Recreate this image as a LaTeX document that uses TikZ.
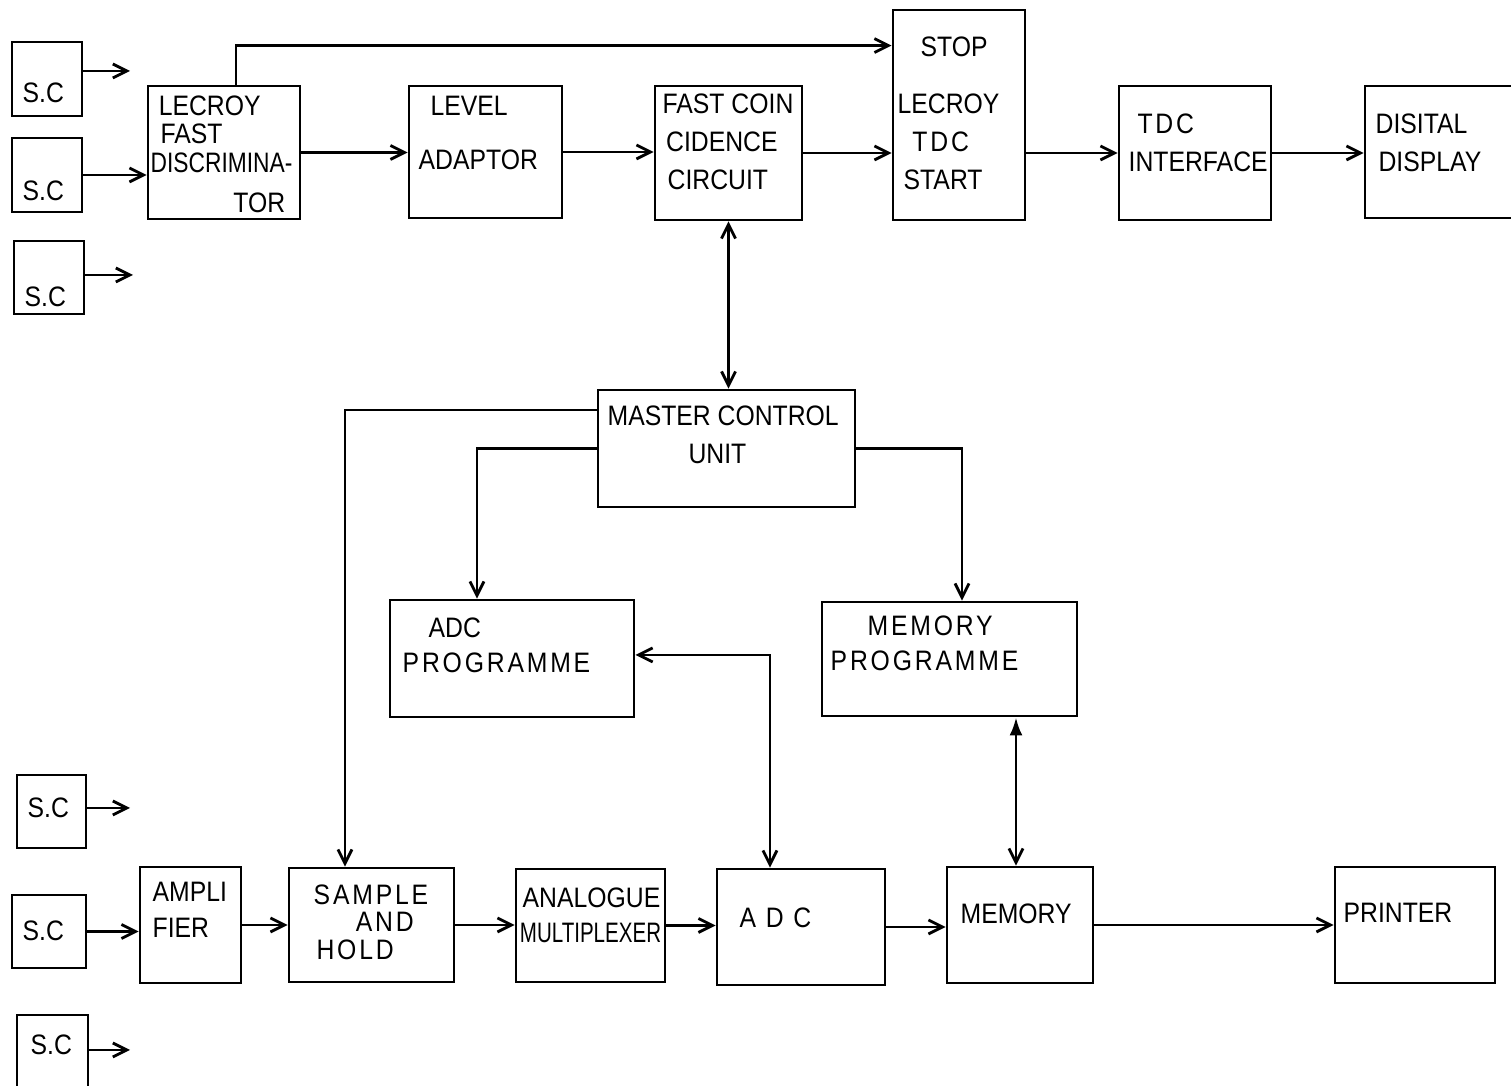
\documentclass[tikz,border=0pt]{standalone}
\usepackage{fontspec}
\setmainfont{Liberation Sans}[FakeStretch=0.88]
\usepackage{graphicx}
\usetikzlibrary{arrows.meta}
\newcommand{\spaced}[1]{{\addfontfeature{LetterSpace=10}#1}}

\begin{document}
\begin{tikzpicture}[
  x=0.01cm, y=-0.01cm,
  blk/.style={rectangle, draw, line width=0.8pt, inner sep=0pt},
  lbl/.style={anchor=north west, inner sep=0pt, align=left,
              font=\fontsize{8}{10.8}\selectfont},
  arr/.style={line width=0.8pt, -{Straight Barb[length=1.4mm,width=1.4mm]}},
  dbl/.style={line width=0.8pt, {Straight Barb[length=1.4mm,width=1.4mm]}-{Straight Barb[length=1.4mm,width=1.4mm]}}
]
  \useasboundingbox (0,0) rectangle (1511,1086);
  % top row
  \node[blk, minimum width=0.70cm, minimum height=0.74cm] (sc1)    at (47,79)     {};
  \node[blk, minimum width=0.70cm, minimum height=0.74cm] (sc2)    at (47,175)    {};
  \node[blk, minimum width=0.70cm, minimum height=0.73cm] (sc3)    at (49,277.5)  {};
  \node[blk, minimum width=1.52cm, minimum height=1.33cm] (disc)   at (224,152.5) {};
  \node[blk, minimum width=1.53cm, minimum height=1.32cm] (level)  at (485.5,152) {};
  \node[blk, minimum width=1.47cm, minimum height=1.34cm] (coin)   at (728.5,153) {};
  \node[blk, minimum width=1.32cm, minimum height=2.10cm] (tdc)    at (959,115)   {};
  \node[blk, minimum width=1.52cm, minimum height=1.34cm] (tdcif)  at (1195,153)  {};
  \node[blk, minimum width=1.52cm, minimum height=1.32cm] (disp)   at (1441,152)  {};
  % control
  \node[blk, minimum width=2.57cm, minimum height=1.17cm] (master)  at (726.5,448.5) {};
  \node[blk, minimum width=2.44cm, minimum height=1.17cm] (adcprog) at (512,658.5)   {};
  \node[blk, minimum width=2.55cm, minimum height=1.14cm] (memprog) at (949.5,659)   {};
  % bottom row
  \node[blk, minimum width=0.69cm, minimum height=0.73cm] (sc4)     at (51.5,811.5) {};
  \node[blk, minimum width=0.74cm, minimum height=0.73cm] (sc5)     at (49,931.5)   {};
  \node[blk, minimum width=0.71cm, minimum height=0.74cm] (sc6)     at (52.5,1052)  {};
  \node[blk, minimum width=1.01cm, minimum height=1.16cm] (amp)     at (190.5,925)  {};
  \node[blk, minimum width=1.65cm, minimum height=1.14cm] (sah)     at (371.5,925)  {};
  \node[blk, minimum width=1.49cm, minimum height=1.13cm] (mux)     at (590.5,925.5) {};
  \node[blk, minimum width=1.68cm, minimum height=1.16cm] (adc)     at (801,927)    {};
  \node[blk, minimum width=1.46cm, minimum height=1.16cm] (memory)  at (1020,925)   {};
  \node[blk, minimum width=1.60cm, minimum height=1.16cm] (printer) at (1415,925)   {};

  % texts
  \node[lbl] (sc1T) at (22,82)  {S.C};
  \node[lbl] (sc2T) at (22,180) {S.C};
  \node[lbl] (sc3T) at (24,286) {S.C};
  \node[lbl, font=\fontsize{8}{8.1}\selectfont] (discT) at (150,95)
        {\hspace*{2.3pt}LECROY\\\hspace*{2.8pt}FAST\\\scalebox{0.92}[1]{DISCRIMINA-}};
  \node[lbl, anchor=north east] (torT) at (286,192) {TOR};
  \node[lbl, font=\fontsize{8}{15.6}\selectfont] (levelT) at (418,95)
        {\hspace*{3.4pt}LEVEL\\ADAPTOR};
  \node[lbl] (coinT) at (662,93) {FAST COIN\\\hspace*{1pt}CIDENCE\\\hspace*{1.4pt}CIRCUIT};
  \node[lbl] (stopT) at (920,36) {STOP};
  \node[lbl] (tdcT) at (897,93) {LECROY\\\hspace*{4.2pt}\spaced{TDC}\\\hspace*{1.7pt}START};
  \node[lbl] (tdcifT) at (1128,113) {\hspace*{2.5pt}\spaced{TDC}\\INTERFACE};
  \node[lbl] (dispT) at (1375,113) {DISITAL\\\hspace*{0.8pt}DISPLAY};
  \node[lbl] (masterT) at (607,405) {MASTER CONTROL\\\hspace*{23pt}UNIT};
  \node[lbl, font=\fontsize{8}{9.9}\selectfont] (adcprogT) at (402,617)
        {\hspace*{7.4pt}ADC\\\spaced{PROGRAMME}};
  \node[lbl, font=\fontsize{8}{9.9}\selectfont] (memprogT) at (830,615)
        {\hspace*{10.5pt}\spaced{MEMORY}\\\spaced{PROGRAMME}};
  \node[lbl] (sc4T) at (27,797)  {S.C};
  \node[lbl] (sc5T) at (22,920)  {S.C};
  \node[lbl] (sc6T) at (30,1034) {S.C};
  \node[lbl, font=\fontsize{8}{10.5}\selectfont] (ampT) at (152,881) {AMPLI\\FIER};
  \node[lbl, font=\fontsize{8}{7.8}\selectfont] (sahT) at (313,884)
        {\spaced{SAMPLE}\\\hspace*{12pt}\spaced{AND}\\\hspace*{0.8pt}\spaced{HOLD}};
  \node[lbl, font=\fontsize{8}{9.9}\selectfont] (muxT) at (522,887)
        {ANALOGUE\\\hspace*{-0.8pt}\scalebox{0.83}[1]{MULTIPLEXER}};
  \node[lbl] (adcT) at (739,907) {\spaced{A D C}};
  \node[lbl] (memoryT) at (960,903) {MEMORY};
  \node[lbl] (printerT) at (1343,902) {PRINTER};

  % free ends
  \coordinate (sc1end) at (130,71);
  \coordinate (sc3end) at (133,275);
  \coordinate (sc4end) at (130,808);
  \coordinate (sc6end) at (130,1050);

  % connectors
  \draw[arr] (sc1end -| sc1.east) -- (sc1end);
  \draw[arr] (sc2.east) -- (sc2.east -| disc.west);
  \draw[arr] (sc3end -| sc3.east) -- (sc3end);
  \draw[arr] ([xshift=0.12cm]disc.north) |- ([yshift=-0.37cm]tdc.north west);
  \draw[arr] (disc.east) -- (disc.east -| level.west);
  \draw[arr] (level.east) -- (level.east -| coin.west);
  \draw[arr] (coin.east) -- (coin.east -| tdc.west);
  \draw[arr] (tdcif.west -| tdc.east) -- (tdcif.west);
  \draw[arr] (tdcif.east) -- (tdcif.east -| disp.west);
  \draw[dbl] (coin.south) -- (coin.south |- master.north);
  \draw[arr] ([yshift=0.385cm]master.west) -| ([xshift=-0.265cm]sah.north);
  \draw[arr] (master.west) -| ([xshift=-0.35cm]adcprog.north);
  \draw[arr] (master.east) -| ([xshift=0.125cm]memprog.north);
  \draw[dbl] ([yshift=0.035cm]adcprog.east) -| ([xshift=-0.31cm]adc.north);
  \draw[line width=0.8pt, {Straight Barb[length=1.4mm,width=1.4mm]}-{Latex[length=1.8mm,width=1.3mm]}]
        ([xshift=-0.04cm]memory.north) -- ([xshift=-0.04cm]memory.north |- memprog.south);
  \draw[arr] (sc4end -| sc4.east) -- (sc4end);
  \draw[arr] (sc5.east) -- (sc5.east -| amp.west);
  \draw[arr] (sc6end -| sc6.east) -- (sc6end);
  \draw[arr] (amp.east) -- (amp.east -| sah.west);
  \draw[arr] (sah.east) -- (sah.east -| mux.west);
  \draw[arr] (mux.east) -- (mux.east -| adc.west);
  \draw[arr] (adc.east) -- (adc.east -| memory.west);
  \draw[arr] (memory.east) -- (memory.east -| printer.west);
\end{tikzpicture}
\end{document}
